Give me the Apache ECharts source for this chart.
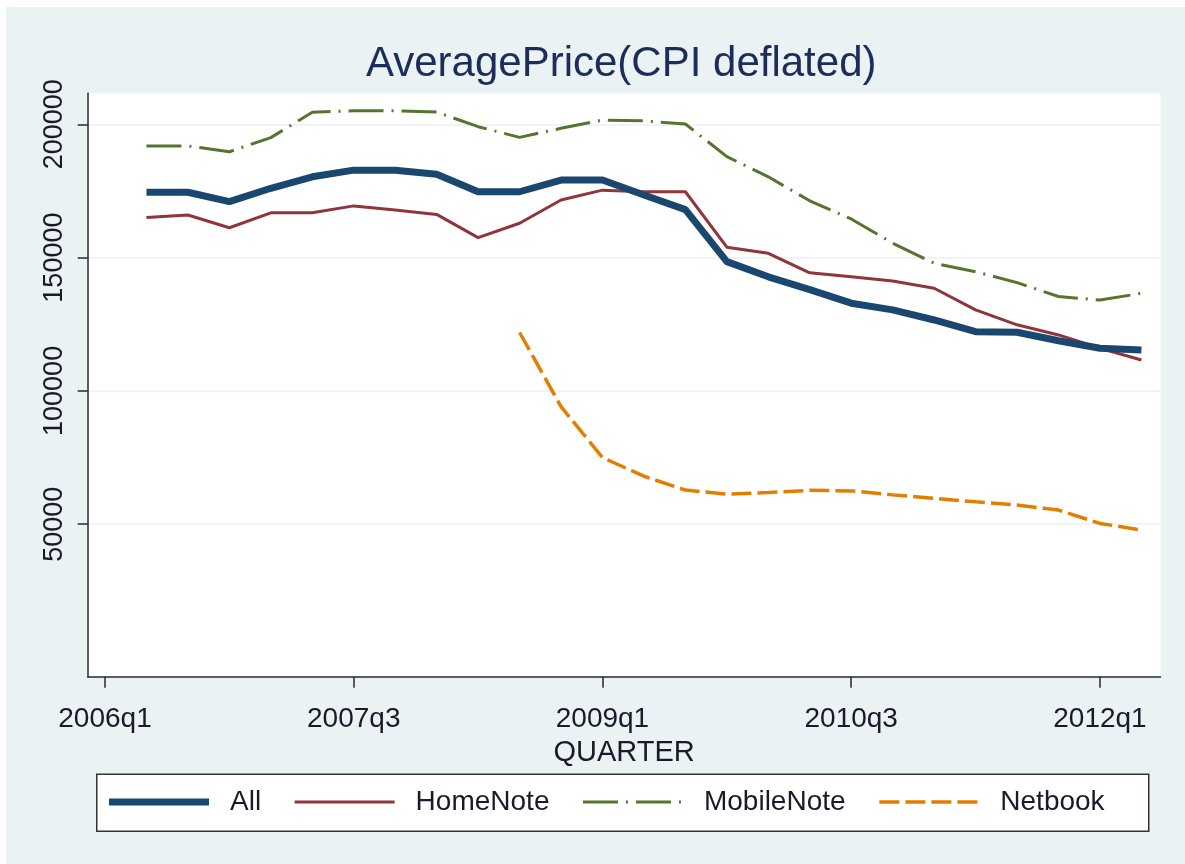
<!DOCTYPE html>
<html lang="en" style="height: 100%">

<head>
  <meta charset="utf-8">
  <script type="text/javascript" src="https://cdn.jsdelivr.net/npm/echarts@6/dist/echarts.min.js"></script>
</head>

<body style="height: 100%; margin: 0; background: #ffffff;">
  <div id="container" style="position: absolute; left: 6px; top: 7px; width: 1179px; height: 857px;"></div>

  <script type="text/javascript">
    // quarters shown in the data (2006q2 .. 2012q2)
    var quarters = ['2006q2', '2006q3', '2006q4', '2007q1', '2007q2', '2007q3', '2007q4',
      '2008q1', '2008q2', '2008q3', '2008q4', '2009q1', '2009q2', '2009q3', '2009q4',
      '2010q1', '2010q2', '2010q3', '2010q4', '2011q1', '2011q2', '2011q3', '2011q4',
      '2012q1', '2012q2'];

    var allPrice = [174500, 174500, 171000, 176000, 180300, 182800, 182800, 181300, 174700,
      174700, 179100, 179100, 173500, 168000, 148500, 142800, 138000, 132900, 130400,
      126600, 122200, 122000, 118800, 116000, 115300];

    var homeNote = [165000, 166000, 161200, 166800, 166800, 169400, 167900, 166200, 157500,
      162900, 171600, 175300, 174700, 174700, 153900, 151600, 144300, 142800, 141200,
      138500, 130400, 124800, 121000, 116000, 111600];

    var mobileNote = [191900, 191900, 189700, 195000, 204500, 205100, 205100, 204600, 199100,
      195100, 198500, 201600, 201300, 200100, 187900, 180300, 171300, 164500, 155400,
      147900, 144700, 140600, 135400, 134100, 136600];

    var netbook = [null, null, null, null, null, null, null, null, null,
      121900, 94100, 75000, 68000, 62800, 61300, 61900, 62700, 62500, 61000,
      59700, 58400, 57200, 55300, 50300, 47800];

    var xTickLabels = ['2006q1', '2007q3', '2009q1', '2010q3', '2012q1'];
    var yTickValues = [50000, 100000, 150000, 200000];

    function qIndex(s) {
      return (parseInt(s.slice(0, 4), 10) - 2006) * 4 + parseInt(s.slice(5), 10) - 1;
    }
    function qLabel(v) {
      var i = Math.round(v);
      return (2006 + Math.floor(i / 4)) + 'q' + (i % 4 + 1);
    }
    function pairs(values) {
      return quarters.map(function (q, i) { return [qIndex(q), values[i]]; });
    }

    var font = "'Liberation Sans', Arial, sans-serif";
    var xTicks = xTickLabels.map(qIndex);

    var dom = document.getElementById('container');
    var myChart = echarts.init(dom, null, { renderer: 'canvas' });

    var option = {
      backgroundColor: '#eaf2f3',
      animation: false,
      textStyle: { fontFamily: font },
      title: {
        text: 'AveragePrice(CPI deflated)',
        left: 360,
        top: 36,
        padding: 0,
        textStyle: { fontFamily: font, fontSize: 42, fontWeight: 'normal', color: '#1c2d5a' }
      },
      graphic: [{
        type: 'rect',
        left: 90,
        top: 766.6,
        z: -1,
        shape: { width: 1052, height: 57 },
        style: { fill: '#ffffff', stroke: '#333333', lineWidth: 1.5 }
      }],
      legend: {
        left: 99.5,
        top: 781,
        padding: 0,
        itemWidth: 100,
        itemHeight: 28,
        itemGap: 32,
        lineStyle: { width: 'inherit' },
        itemStyle: { color: 'rgba(0,0,0,0)', borderWidth: 0, opacity: 0 },
        textStyle: { fontFamily: font, fontSize: 28, color: '#1a1a2a', padding: [0, 0, 0, 16] },
        data: ['All', 'HomeNote', 'MobileNote', 'Netbook']
      },
      grid: {
        left: 81.7,
        top: 86.3,
        right: 24.5,
        bottom: 187.3,
        show: true,
        backgroundColor: '#ffffff',
        borderWidth: 0
      },
      xAxis: {
        type: 'value',
        min: -0.417,
        max: 25.46,
        name: 'QUARTER',
        nameLocation: 'middle',
        nameGap: 62,
        nameTextStyle: { fontFamily: font, fontSize: 29, color: '#1a1a2a' },
        axisLine: { show: true, onZero: false, lineStyle: { color: '#2a2a2a', width: 1.5 } },
        axisTick: { show: true, length: 11, customValues: xTicks, lineStyle: { color: '#2a2a2a', width: 1.5 } },
        axisLabel: {
          customValues: xTicks,
          margin: 29,
          fontSize: 28,
          color: '#1a1a2a',
          formatter: qLabel
        },
        splitLine: { show: false }
      },
      yAxis: {
        type: 'value',
        min: -7200,
        max: 211630,
        axisLine: { show: true, onZero: false, lineStyle: { color: '#2a2a2a', width: 1.5 } },
        axisTick: { show: true, length: 10, customValues: yTickValues, lineStyle: { color: '#2a2a2a', width: 1.5 } },
        axisLabel: {
          customValues: yTickValues,
          rotate: 90,
          margin: 20,
          fontSize: 27,
          color: '#1a1a2a',
          formatter: function (v) { return String(v); }
        },
        splitLine: { show: true, lineStyle: { color: '#eaf2f3', width: 1.5 } }
      },
      series: [
        {
          name: 'All',
          type: 'line',
          data: pairs(allPrice),
          symbol: 'none',
          z: 5,
          lineStyle: { color: '#1a476f', width: 7 },
          itemStyle: { color: '#1a476f' }
        },
        {
          name: 'HomeNote',
          type: 'line',
          data: pairs(homeNote),
          symbol: 'none',
          z: 4,
          lineStyle: { color: '#90353b', width: 3 },
          itemStyle: { color: '#90353b' }
        },
        {
          name: 'MobileNote',
          type: 'line',
          data: pairs(mobileNote),
          symbol: 'none',
          z: 3,
          lineStyle: { color: '#55752f', width: 3, type: [35, 8, 2, 8] },
          itemStyle: { color: '#55752f' }
        },
        {
          name: 'Netbook',
          type: 'line',
          data: pairs(netbook),
          symbol: 'none',
          z: 3,
          lineStyle: { color: '#e37e00', width: 3.5, type: [20, 6] },
          itemStyle: { color: '#e37e00' }
        }
      ]
    };

    myChart.setOption(option);
    window.addEventListener('resize', myChart.resize);
  </script>
</body>

</html>
